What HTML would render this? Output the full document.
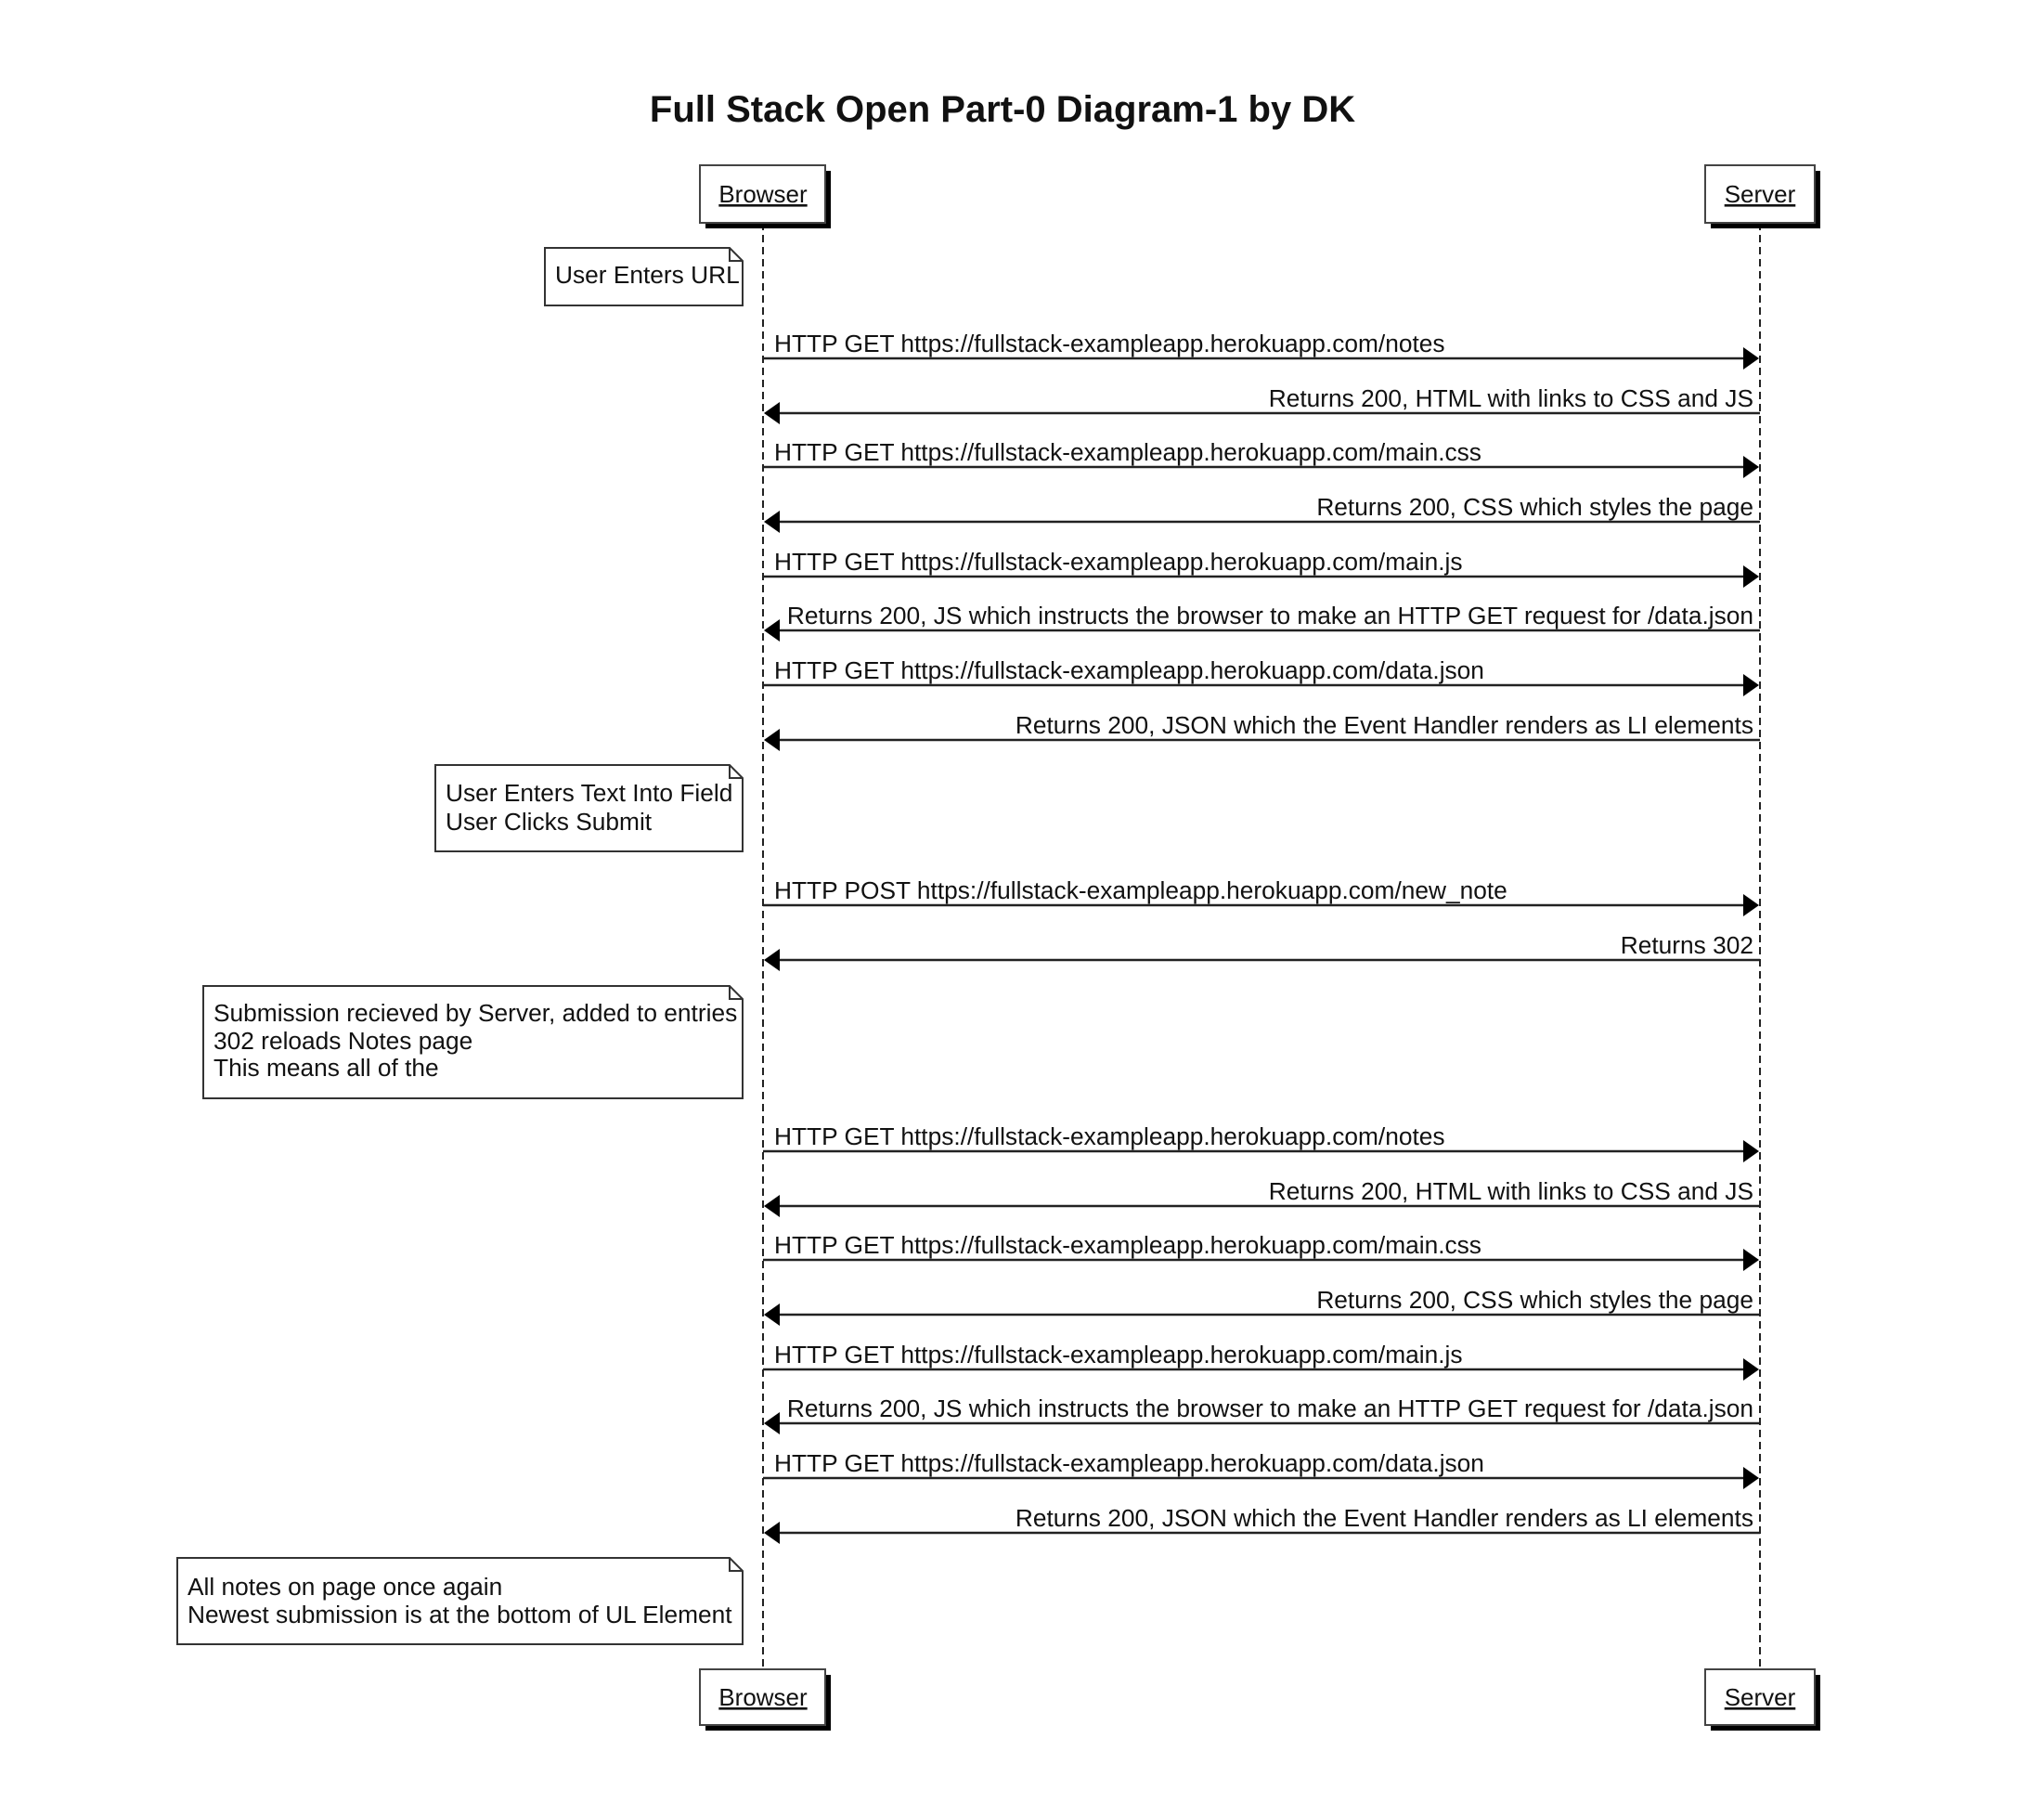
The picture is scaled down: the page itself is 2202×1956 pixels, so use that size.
<!DOCTYPE html>
<html><head><meta charset="utf-8"><style>
html,body{margin:0;padding:0;background:#fff;}
svg{display:block;}
text{font-family:"Liberation Sans",Arial,sans-serif;fill:#111;}
</style></head><body>
<svg width="2202" height="1956" viewBox="0 0 2202 1956" xmlns="http://www.w3.org/2000/svg">
<text x="1080" y="131" font-size="40" font-weight="bold" text-anchor="middle">Full Stack Open Part-0 Diagram-1 by DK</text>

<line x1="822" y1="240" x2="822" y2="1798" stroke="#222" stroke-width="2" stroke-dasharray="8,5"/>
<line x1="1896" y1="240" x2="1896" y2="1798" stroke="#222" stroke-width="2" stroke-dasharray="8,5"/>

<g>
<rect x="760" y="184" width="135" height="62" fill="#000"/>
<rect x="754" y="178" width="135" height="62" fill="#fff" stroke="#444" stroke-width="2"/>
<text x="822" y="218" font-size="26" text-anchor="middle" text-decoration="underline">Browser</text>
<rect x="1843" y="184" width="118" height="62" fill="#000"/>
<rect x="1837" y="178" width="118" height="62" fill="#fff" stroke="#444" stroke-width="2"/>
<text x="1896" y="218" font-size="26" text-anchor="middle" text-decoration="underline">Server</text>

<rect x="760" y="1804" width="135" height="60" fill="#000"/>
<rect x="754" y="1798" width="135" height="60" fill="#fff" stroke="#444" stroke-width="2"/>
<text x="822" y="1837" font-size="26" text-anchor="middle" text-decoration="underline">Browser</text>
<rect x="1843" y="1804" width="118" height="60" fill="#000"/>
<rect x="1837" y="1798" width="118" height="60" fill="#fff" stroke="#444" stroke-width="2"/>
<text x="1896" y="1837" font-size="26" text-anchor="middle" text-decoration="underline">Server</text>
</g>

<g fill="#fff" stroke="#333" stroke-width="2">
<path d="M587 267 H786 L800 281 V329 H587 Z"/><path d="M786 267 V281 H800" fill="none"/>
<path d="M469 824 H786 L800 838 V917 H469 Z"/><path d="M786 824 V838 H800" fill="none"/>
<path d="M219 1062 H786 L800 1076 V1183 H219 Z"/><path d="M786 1062 V1076 H800" fill="none"/>
<path d="M191 1678 H786 L800 1692 V1771 H191 Z"/><path d="M786 1678 V1692 H800" fill="none"/>
</g>
<g font-size="26.3">
<text x="598" y="305">User Enters URL</text>
<text x="480" y="863">User Enters Text Into Field</text>
<text x="480" y="894">User Clicks Submit</text>
<text x="230" y="1100">Submission recieved by Server, added to entries</text>
<text x="230" y="1130">302 reloads Notes page</text>
<text x="230" y="1159">This means all of the</text>
<text x="202" y="1718">All notes on page once again</text>
<text x="202" y="1748">Newest submission is at the bottom of UL Element</text>
</g>

<g stroke="#222" stroke-width="2.5">
<line x1="822" y1="386" x2="1880" y2="386"/>
<line x1="838" y1="445" x2="1896" y2="445"/>
<line x1="822" y1="503" x2="1880" y2="503"/>
<line x1="838" y1="562" x2="1896" y2="562"/>
<line x1="822" y1="621" x2="1880" y2="621"/>
<line x1="838" y1="679" x2="1896" y2="679"/>
<line x1="822" y1="738" x2="1880" y2="738"/>
<line x1="838" y1="797" x2="1896" y2="797"/>
<line x1="822" y1="975" x2="1880" y2="975"/>
<line x1="838" y1="1034" x2="1896" y2="1034"/>
<line x1="822" y1="1240" x2="1880" y2="1240"/>
<line x1="838" y1="1299" x2="1896" y2="1299"/>
<line x1="822" y1="1357" x2="1880" y2="1357"/>
<line x1="838" y1="1416" x2="1896" y2="1416"/>
<line x1="822" y1="1475" x2="1880" y2="1475"/>
<line x1="838" y1="1533" x2="1896" y2="1533"/>
<line x1="822" y1="1592" x2="1880" y2="1592"/>
<line x1="838" y1="1651" x2="1896" y2="1651"/>
</g>
<g fill="#000">
<path d="M1895 386 l-17 -12 v24 z"/>
<path d="M823 445 l17 -12 v24 z"/>
<path d="M1895 503 l-17 -12 v24 z"/>
<path d="M823 562 l17 -12 v24 z"/>
<path d="M1895 621 l-17 -12 v24 z"/>
<path d="M823 679 l17 -12 v24 z"/>
<path d="M1895 738 l-17 -12 v24 z"/>
<path d="M823 797 l17 -12 v24 z"/>
<path d="M1895 975 l-17 -12 v24 z"/>
<path d="M823 1034 l17 -12 v24 z"/>
<path d="M1895 1240 l-17 -12 v24 z"/>
<path d="M823 1299 l17 -12 v24 z"/>
<path d="M1895 1357 l-17 -12 v24 z"/>
<path d="M823 1416 l17 -12 v24 z"/>
<path d="M1895 1475 l-17 -12 v24 z"/>
<path d="M823 1533 l17 -12 v24 z"/>
<path d="M1895 1592 l-17 -12 v24 z"/>
<path d="M823 1651 l17 -12 v24 z"/>
</g>
<g font-size="26.3">
<text x="834" y="379">HTTP GET https://fullstack-exampleapp.herokuapp.com/notes</text>
<text x="1889" y="438" text-anchor="end">Returns 200, HTML with links to CSS and JS</text>
<text x="834" y="496">HTTP GET https://fullstack-exampleapp.herokuapp.com/main.css</text>
<text x="1889" y="555" text-anchor="end">Returns 200, CSS which styles the page</text>
<text x="834" y="614">HTTP GET https://fullstack-exampleapp.herokuapp.com/main.js</text>
<text x="1889" y="672" text-anchor="end">Returns 200, JS which instructs the browser to make an HTTP GET request for /data.json</text>
<text x="834" y="731">HTTP GET https://fullstack-exampleapp.herokuapp.com/data.json</text>
<text x="1889" y="790" text-anchor="end">Returns 200, JSON which the Event Handler renders as LI elements</text>
<text x="834" y="968">HTTP POST https://fullstack-exampleapp.herokuapp.com/new_note</text>
<text x="1889" y="1027" text-anchor="end">Returns 302</text>
<text x="834" y="1233">HTTP GET https://fullstack-exampleapp.herokuapp.com/notes</text>
<text x="1889" y="1292" text-anchor="end">Returns 200, HTML with links to CSS and JS</text>
<text x="834" y="1350">HTTP GET https://fullstack-exampleapp.herokuapp.com/main.css</text>
<text x="1889" y="1409" text-anchor="end">Returns 200, CSS which styles the page</text>
<text x="834" y="1468">HTTP GET https://fullstack-exampleapp.herokuapp.com/main.js</text>
<text x="1889" y="1526" text-anchor="end">Returns 200, JS which instructs the browser to make an HTTP GET request for /data.json</text>
<text x="834" y="1585">HTTP GET https://fullstack-exampleapp.herokuapp.com/data.json</text>
<text x="1889" y="1644" text-anchor="end">Returns 200, JSON which the Event Handler renders as LI elements</text>
</g>
</svg>
</body></html>
